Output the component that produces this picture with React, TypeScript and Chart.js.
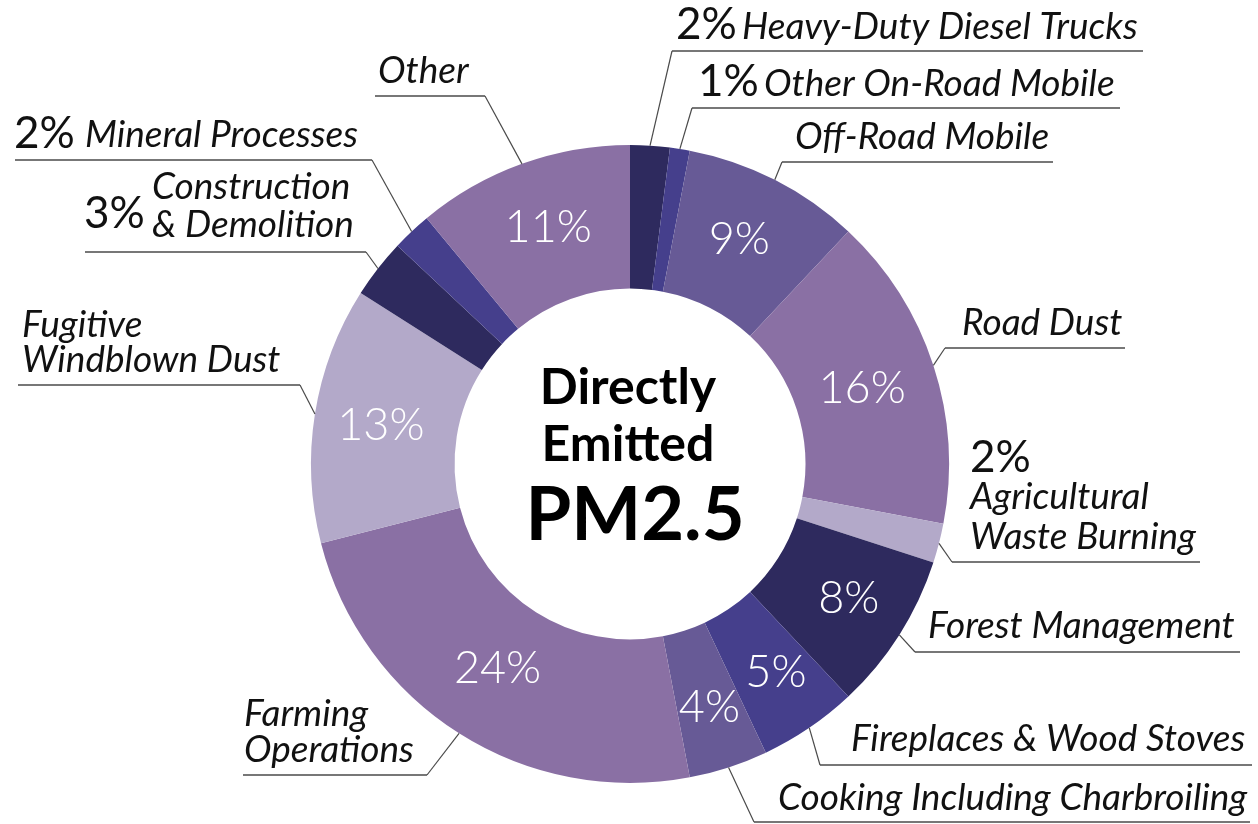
import React, { useEffect, useRef } from "react";
import { Chart, registerables } from "chart.js";

Chart.register(...registerables);

// ---------- DATA ----------
const categories = [
  "Heavy-Duty Diesel Trucks",
  "Other On-Road Mobile",
  "Off-Road Mobile",
  "Road Dust",
  "Agricultural Waste Burning",
  "Forest Management",
  "Fireplaces & Wood Stoves",
  "Cooking Including Charbroiling",
  "Farming Operations",
  "Fugitive Windblown Dust",
  "Construction & Demolition",
  "Mineral Processes",
  "Other",
];
const percents = [2, 1, 9, 16, 2, 8, 5, 4, 24, 13, 3, 2, 11];
// true: percentage printed inside the ring; false: printed beside the callout text
const pctInside = [false, false, true, true, false, true, true, true, true, true, false, false, true];
const centerTitle = ["Directly", "Emitted", "PM2.5"];

// ---------- STYLE ----------
const NAVY = "#2e2a5e";
const BLUE = "#453f8c";
const MID = "#675a96";
const PURPLE = "#8a70a4";
const LAV = "#b3a9c9";
const sliceColors = [NAVY, BLUE, MID, PURPLE, LAV, NAVY, BLUE, MID, PURPLE, LAV, NAVY, BLUE, PURPLE];

const FONT = "Lato, 'Open Sans', sans-serif";

// callout layout (text position / underline), per slice
type Callout = {
  lines: string[];
  x: number;
  baselines: number[];
  pctX?: number;
  pctY?: number;
  ulY: number;
  ulX1: number;
  ulX2: number;
  elbow: "left" | "right";
};
const callouts: Callout[] = [
  { lines: ["Heavy-Duty Diesel Trucks"], x: 742, baselines: [39], pctX: 676, pctY: 39, ulY: 51, ulX1: 672, ulX2: 1143, elbow: "left" },
  { lines: ["Other On-Road Mobile"], x: 764, baselines: [96], pctX: 698, pctY: 96, ulY: 108, ulX1: 692, ulX2: 1120, elbow: "left" },
  { lines: ["Off-Road Mobile"], x: 795, baselines: [149], ulY: 162, ulX1: 782, ulX2: 1053, elbow: "left" },
  { lines: ["Road Dust"], x: 962, baselines: [335], ulY: 348, ulX1: 945, ulX2: 1125, elbow: "left" },
  { lines: ["Agricultural", "Waste Burning"], x: 970, baselines: [509, 549], pctX: 970, pctY: 472, ulY: 562, ulX1: 952, ulX2: 1200, elbow: "left" },
  { lines: ["Forest Management"], x: 928, baselines: [638], ulY: 652, ulX1: 915, ulX2: 1240, elbow: "left" },
  { lines: ["Fireplaces & Wood Stoves"], x: 851, baselines: [751], ulY: 765, ulX1: 820, ulX2: 1252, elbow: "left" },
  { lines: ["Cooking Including Charbroiling"], x: 778, baselines: [810], ulY: 822, ulX1: 754, ulX2: 1250, elbow: "left" },
  { lines: ["Farming", "Operations"], x: 244, baselines: [726, 762], ulY: 775, ulX1: 243, ulX2: 427, elbow: "right" },
  { lines: ["Fugitive", "Windblown Dust"], x: 22, baselines: [337, 372], ulY: 385, ulX1: 18, ulX2: 300, elbow: "right" },
  { lines: ["Construction", "& Demolition"], x: 152, baselines: [199, 237], pctX: 84, pctY: 228, ulY: 252, ulX1: 85, ulX2: 366, elbow: "right" },
  { lines: ["Mineral Processes"], x: 85, baselines: [147], pctX: 14, pctY: 148, ulY: 160, ulX1: 15, ulX2: 372, elbow: "right" },
  { lines: ["Other"], x: 378, baselines: [83], ulY: 96, ulX1: 375, ulX2: 485, elbow: "right" },
];
// small nudges for in-ring percentage labels
const insideNudge: [number, number][] = [
  [0, 0], [0, 0], [-3, -4], [-3, 1], [0, 0], [10, 2], [7, 4], [3, 8], [0, -4], [-5, 0], [0, 0], [0, 0], [2, -4],
];

const annotate = {
  id: "annotate",
  afterDraw(chart: any) {
    const ctx = chart.ctx as CanvasRenderingContext2D;
    const meta = chart.getDatasetMeta(0);
    ctx.save();
    meta.data.forEach((arc: any, i: number) => {
      const p = arc.getProps(["x", "y", "startAngle", "endAngle", "outerRadius", "innerRadius"], true);
      const mid = (p.startAngle + p.endAngle) / 2;
      const c = callouts[i];
      // leader line
      const ax = p.x + Math.cos(mid) * p.outerRadius;
      const ay = p.y + Math.sin(mid) * p.outerRadius;
      const ex = c.elbow === "left" ? c.ulX1 : c.ulX2;
      ctx.strokeStyle = "#4a4a4a";
      ctx.lineWidth = 1.2;
      ctx.beginPath();
      ctx.moveTo(ax, ay);
      ctx.lineTo(ex, c.ulY);
      ctx.stroke();
      // underline
      ctx.lineWidth = 1.6;
      ctx.beginPath();
      ctx.moveTo(c.ulX1, c.ulY);
      ctx.lineTo(c.ulX2, c.ulY);
      ctx.stroke();
      // text
      ctx.fillStyle = "#111";
      ctx.textAlign = "left";
      ctx.textBaseline = "alphabetic";
      ctx.font = `italic 400 37px ${FONT}`;
      c.lines.forEach((ln, k) => ctx.fillText(ln, c.x, c.baselines[k]));
      if (!pctInside[i] && c.pctX !== undefined) {
        ctx.font = `400 44px ${FONT}`;
        ctx.fillText(`${percents[i]}%`, c.pctX, c.pctY as number);
      }
      if (pctInside[i]) {
        const r = (p.innerRadius + p.outerRadius) / 2;
        const [dx, dy] = insideNudge[i];
        ctx.font = `300 45px ${FONT}`;
        ctx.fillStyle = "#ffffff";
        ctx.textAlign = "center";
        ctx.textBaseline = "middle";
        ctx.fillText(`${percents[i]}%`, p.x + Math.cos(mid) * r + dx, p.y + Math.sin(mid) * r + dy);
      }
    });
    // center title
    const a0 = meta.data[0].getProps(["x", "y"], true);
    ctx.fillStyle = "#000";
    ctx.textAlign = "center";
    ctx.textBaseline = "alphabetic";
    ctx.font = `700 50px ${FONT}`;
    ctx.fillText(centerTitle[0], a0.x - 2, 404);
    ctx.fillText(centerTitle[1], a0.x - 2, 461);
    ctx.font = `700 74px ${FONT}`;
    ctx.fillText(centerTitle[2], a0.x + 5, 540);
    ctx.restore();
  },
};

export default function App() {
  const ref = useRef<HTMLCanvasElement | null>(null);
  useEffect(() => {
    if (!ref.current) return;
    const chart = new Chart(ref.current, {
      type: "doughnut",
      data: {
        labels: categories,
        datasets: [
          {
            data: percents,
            backgroundColor: sliceColors,
            borderWidth: 0,
          },
        ],
      },
      options: {
        responsive: false,
        animation: false,
        cutout: "55%",
        layout: { padding: { left: 311, right: 309, top: 145, bottom: 41 } },
        plugins: { legend: { display: false }, tooltip: { enabled: false } },
      },
      plugins: [annotate],
    });
    const fonts = (document as any).fonts;
    if (fonts && fonts.load) {
      Promise.all([
        fonts.load(`italic 37px Lato`),
        fonts.load(`300 45px Lato`),
        fonts.load(`700 50px Lato`),
        fonts.load(`400 44px Lato`),
      ]).then(() => chart.draw()).catch(() => {});
    }
    return () => chart.destroy();
  }, []);
  return (
    <div style={{ position: "fixed", left: 0, top: 0, width: 1258, height: 824, background: "#fff" }}>
      <canvas ref={ref} width={1258} height={824} style={{ width: 1258, height: 824, display: "block" }} />
    </div>
  );
}
